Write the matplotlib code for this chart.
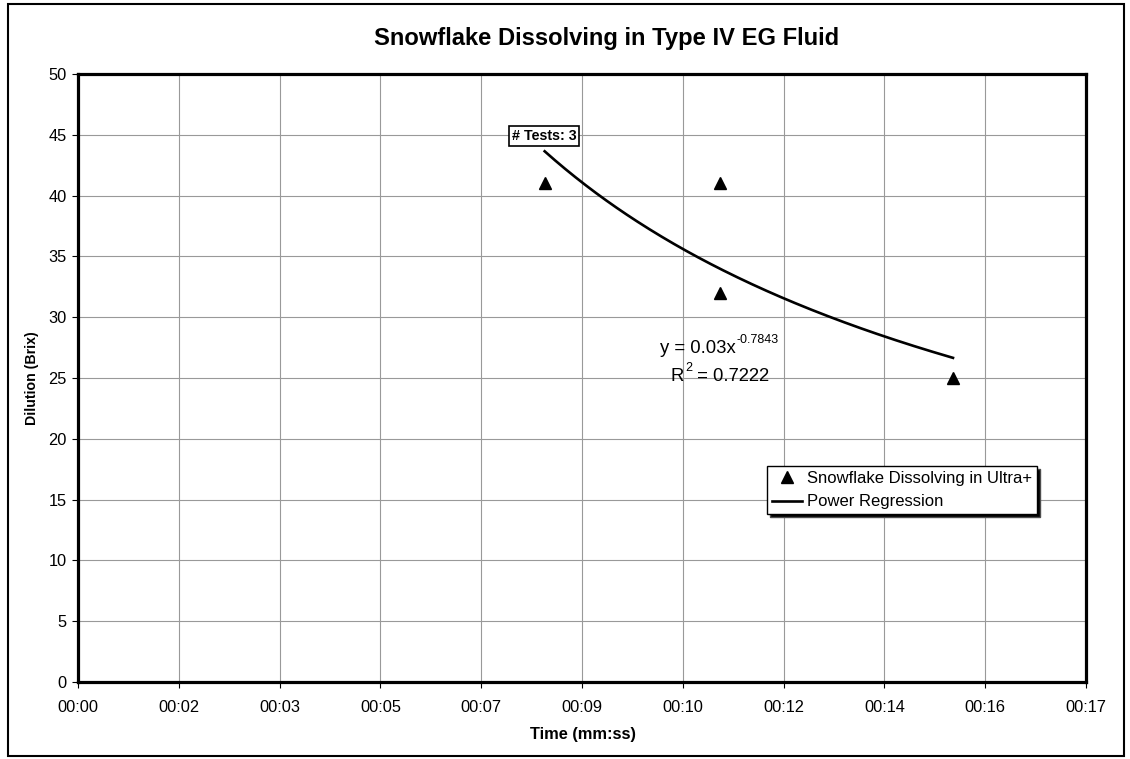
import numpy as np
import matplotlib
matplotlib.use("Agg")
import matplotlib.pyplot as plt
from matplotlib.patches import Rectangle

plt.rcParams['font.family'] = ['Liberation Sans', 'DejaVu Sans']

# Data (time in seconds, dilution in Brix)
time_s = [8, 11, 11, 15]
brix = [41, 41, 32, 25]
series_label = "Snowflake Dissolving in Ultra+"
fit_label = "Power Regression"
title = "Snowflake Dissolving in Type IV EG Fluid"
x_label = "Time (mm:ss)"
y_label = "Dilution (Brix)"
n_tests_text = "# Tests: 3"
major_unit_s = 1.728  # Excel major unit 0.00002 day
n_xticks = 11
y_ticks = list(range(0, 51, 5))

# Power regression (x in days, as in Excel)
xd = np.array(time_s) / 86400.0
b, lna = np.polyfit(np.log(xd), np.log(brix), 1)
a = np.exp(lna)
pred = lna + b * np.log(xd)
ly = np.log(brix)
r2 = 1 - np.sum((ly - pred) ** 2) / np.sum((ly - ly.mean()) ** 2)

W, H = 1130, 759
fig = plt.figure(figsize=(W / 100, H / 100), dpi=100)
ax = fig.add_axes([78 / W, 1 - 682 / H, (1086 - 78) / W, (682 - 74) / H])

xt = [k * major_unit_s for k in range(n_xticks)]
ax.set_xlim(0, xt[-1])
ax.set_ylim(0, 50)
ax.set_xticks(xt)
ax.set_xticklabels([f"{int(round(t)) // 60:02d}:{int(round(t)) % 60:02d}" for t in xt])
ax.set_yticks(y_ticks)
ax.grid(True, color='#999999', linewidth=0.8)
ax.set_axisbelow(True)
for s in ax.spines.values():
    s.set_linewidth(2.3)
    s.set_color('black')
ax.tick_params(direction='out', length=4, width=0.8, labelsize=11.8, pad=4)
ax.tick_params(axis='x', pad=9)

xs = np.linspace(min(time_s), max(time_s), 200)
ys = a * (xs / 86400.0) ** b
ax.plot(time_s, brix, linestyle='none', marker='^', color='black', markersize=9,
        label=series_label, zorder=3)
ax.plot(xs, ys, color='black', linewidth=1.9, label=fit_label, zorder=3)

fig.text(583 / W, 1 - 734 / H, x_label, fontsize=11.8, fontweight='bold',
         ha='center', va='center')
fig.text(32 / W, 1 - 378 / H, y_label, rotation=90, fontsize=10.2, fontweight='bold',
         ha='center', va='center')
fig.text(607 / W, 1 - 38 / H, title, fontsize=17.1, fontweight='bold', ha='center', va='center')

# equation text with manual superscripts
renderer = fig.canvas.get_renderer()


def px(x, y):
    return (x / W, 1 - y / H)


t1 = fig.text(*px(660, 353), f"y = {a:.2f}x", fontsize=13.3, ha='left', va='baseline')
e1 = t1.get_window_extent(renderer)
fig.text(e1.x1 / W + 1 / W, 1 - 343 / H, f"{b:.4f}", fontsize=9, ha='left', va='baseline')

t2 = fig.text(*px(671, 381), "R", fontsize=13.3, ha='left', va='baseline')
e2 = t2.get_window_extent(renderer)
t3 = fig.text(e2.x1 / W + 1 / W, 1 - 371 / H, "2", fontsize=9, ha='left', va='baseline')
e3 = t3.get_window_extent(renderer)
fig.text(e3.x1 / W, 1 - 381 / H, f" = {r2:.4f}", fontsize=13.3, ha='left', va='baseline')

# tests box
fig.text(544 / W, 1 - 136 / H, n_tests_text, fontsize=10.3, fontweight='bold', ha='center', va='center',
         bbox=dict(boxstyle='square,pad=0.2', facecolor='white', edgecolor='black', linewidth=1.2))

leg = ax.legend(loc='upper left', bbox_to_anchor=(767 / W, 1 - 466 / H),
                bbox_transform=fig.transFigure, fontsize=12, frameon=True, fancybox=False,
                framealpha=1, edgecolor='black', handlelength=1.8, handletextpad=0.3,
                borderpad=0.3, labelspacing=0.5, borderaxespad=0,
                shadow={'facecolor': 'black', 'alpha': 1})
leg.get_frame().set_linewidth(1.0)

# outer border
fig.patches.append(Rectangle((8 / W, 3 / H), (1124 - 8) / W, (755 - 3) / H,
                             transform=fig.transFigure, fill=False, edgecolor='black',
                             linewidth=1.5))

fig.savefig("out.png", dpi=100)
